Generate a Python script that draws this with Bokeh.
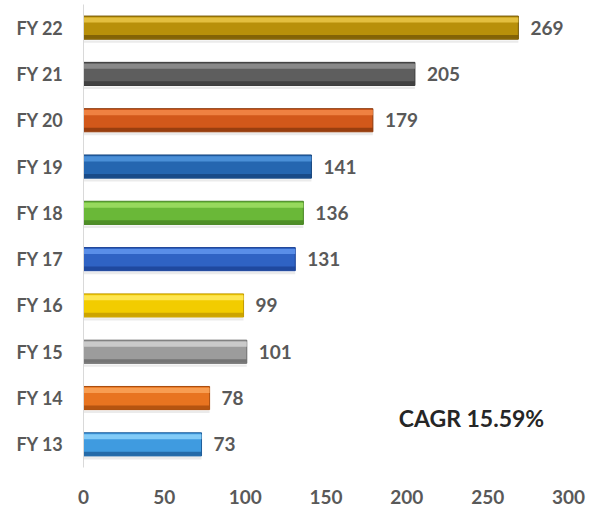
from bokeh.plotting import figure
from bokeh.models import ColumnDataSource, FactorRange, FixedTicker, Label
from bokeh.transform import dodge
from bokeh.core.properties import value
from bokeh.embed import file_html
from bokeh.resources import INLINE

# ---- data ----
years = ["FY 13", "FY 14", "FY 15", "FY 16", "FY 17", "FY 18", "FY 19", "FY 20", "FY 21", "FY 22"]
revenue = [73, 78, 101, 99, 131, 136, 141, 179, 205, 269]
x_ticks = [0, 50, 100, 150, 200, 250, 300]
cagr_text = "CAGR 15.59%"

# ---- styles ----
base_colors = ["#3F9BE0", "#E87420", "#9C9C9C", "#F2CC00", "#2F63C4",
               "#6AB838", "#2566B0", "#D2581A", "#5E5E5E", "#B8900A"]
light_colors = ["#8AD0FA", "#F9A256", "#CFCFCF", "#FFE95A", "#5E92EC",
                "#9CDD62", "#4F93DC", "#F28646", "#8E8E8E", "#E8C445"]
dark_colors = ["#1E5E9A", "#A84C0C", "#6A6A6A", "#C29A00", "#1C4296",
               "#478422", "#16457E", "#8A380C", "#3A3A3A", "#765805"]

src = ColumnDataSource(dict(year=years, val=revenue, base=base_colors,
                            light=light_colors, dark=dark_colors,
                            lab=[str(v) for v in revenue]))

p = figure(width=588, height=508, output_backend="svg", toolbar_location=None,
           y_range=FactorRange(factors=years, range_padding=0),
           x_range=(0, 300), min_border_left=83, min_border_right=20,
           min_border_top=4, min_border_bottom=41)

p.background_fill_color = "white"
p.outline_line_color = None
p.xgrid.grid_line_color = None
p.ygrid.grid_line_color = None

# soft shadow under bars
p.hbar(y=dodge("year", -0.3, range=p.y_range), right="val", left=0, height=0.05,
       source=src, fill_color="#000000", fill_alpha=0.08, line_color=None)

# bars with a bevelled look
p.hbar(y="year", right="val", left=0, height=0.5, source=src,
       fill_color="base", line_color="dark", line_width=1)
p.hbar(y=dodge("year", 0.165, range=p.y_range), right="val", left=0, height=0.11,
       source=src, fill_color="light", line_color=None, fill_alpha=0.9)
p.hbar(y=dodge("year", -0.2, range=p.y_range), right="val", left=0, height=0.08,
       source=src, fill_color="dark", line_color=None, fill_alpha=0.8)

# value labels
p.text(x="val", y="year", text="lab", source=src, x_offset=12,
       text_baseline="middle", text_align="left",
       text_font=value("Lato"), text_font_style="bold",
       text_font_size="19px", text_color="#595959")

# CAGR annotation
p.add_layout(Label(x=195, y=1.06, text=cagr_text, text_baseline="middle",
                   text_font="Lato", text_font_style="bold",
                   text_font_size="23px", text_color="#262626"))

# axes
p.xaxis.ticker = FixedTicker(ticks=x_ticks)
p.xaxis.axis_line_color = None
p.xaxis.major_tick_line_color = None
p.xaxis.minor_tick_line_color = None
p.xaxis.major_label_standoff = 16
p.xaxis.major_label_text_font = "Lato"
p.xaxis.major_label_text_font_style = "bold"
p.xaxis.major_label_text_font_size = "19px"
p.xaxis.major_label_text_color = "#595959"

p.yaxis.axis_line_color = "#D9D9D9"
p.yaxis.axis_line_width = 1
p.yaxis.major_tick_line_color = None
p.yaxis.minor_tick_line_color = None
p.yaxis.major_label_standoff = 14
p.yaxis.major_label_text_font = "Lato"
p.yaxis.major_label_text_font_style = "bold"
p.yaxis.major_label_text_font_size = "18px"
p.yaxis.major_label_text_color = "#595959"

open("out.html", "w").write(file_html(p, INLINE))
